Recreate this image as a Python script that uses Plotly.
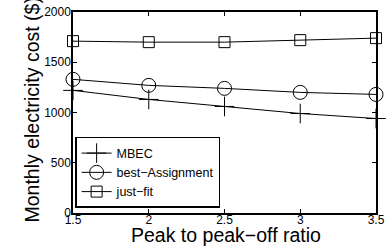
import plotly.graph_objects as go

ratios = [1.5, 2, 2.5, 3, 3.5]
mbec = [1220, 1130, 1060, 990, 940]
best_assign = [1330, 1270, 1240, 1200, 1180]
just_fit = [1710, 1700, 1700, 1720, 1740]

fig = go.Figure()
series = [
    ("MBEC", mbec, "cross-thin-open", 14),
    ("best\u2212Assignment", best_assign, "circle-open", 14),
    ("just\u2212fit", just_fit, "square-open", 11),
]
for name, vals, sym, size in series:
    fig.add_trace(go.Scatter(
        x=ratios, y=vals, name=name, mode="lines+markers",
        line=dict(color="black", width=1),
        marker=dict(symbol=sym, size=size, color="black", line=dict(color="black", width=1)),
        cliponaxis=False,
    ))

fig.update_layout(
    width=386, height=247,
    margin=dict(l=73, r=10, t=12, b=34),
    paper_bgcolor="white", plot_bgcolor="white",
    font=dict(family="Liberation Sans, Arial", color="black", size=12),
    showlegend=True,
    legend=dict(x=0.007, y=0.025, xanchor="left", yanchor="bottom",
                bgcolor="white", bordercolor="black", borderwidth=1.5,
                font=dict(size=12.5), tracegroupgap=0, itemwidth=30),
    annotations=[
        dict(text="Peak to peak\u2212off ratio", xref="paper", yref="paper",
             x=0.505, y=0, xanchor="center", yanchor="top", yshift=-9,
             showarrow=False, font=dict(size=19.5)),
        dict(text="Monthly electricity cost ($)", xref="paper", yref="paper",
             x=0, y=0.5, xanchor="center", yanchor="middle", xshift=-42, yshift=2,
             textangle=-90, showarrow=False, font=dict(size=19.5)),
    ],
)
fig.update_xaxes(
    range=[1.5, 3.5], tickvals=[1.5, 2, 2.5, 3, 3.5], ticktext=["1.5", "2", "2.5", "3", "3.5"],
    ticks="inside", ticklen=4, tickcolor="black", mirror="ticks",
    showline=True, linecolor="black", linewidth=1.5, showgrid=False, zeroline=False,
    tickfont=dict(size=12), automargin=False, ticklabelstandoff=-5,
)
fig.update_yaxes(
    range=[0, 2000], tickvals=[0, 500, 1000, 1500, 2000],
    ticks="inside", ticklen=4, tickcolor="black", mirror="ticks",
    showline=True, linecolor="black", linewidth=1.5, showgrid=False, zeroline=False,
    tickfont=dict(size=12), automargin=False, ticklabelstandoff=-2,
)
fig.write_html("out.html", config={"displayModeBar": False},
               post_script="document.body.style.margin='0';")
